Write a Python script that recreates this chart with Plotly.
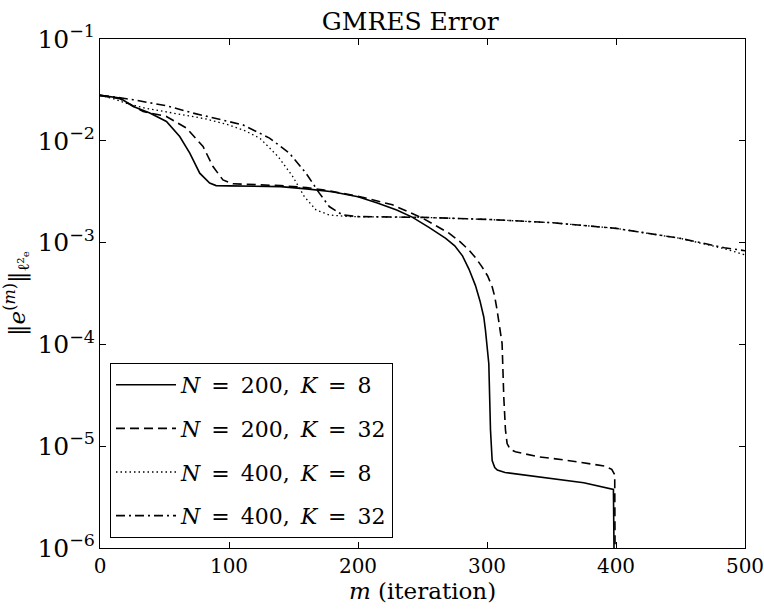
import plotly.graph_objects as go

# ---- data (iteration m, error norm) ----
m_200_8 = [0, 8, 15.5, 25.8, 38.6, 51.5, 61.8, 69.6, 77.3, 85, 90, 100, 120, 140, 160, 180,
           200, 215, 230, 242, 255, 268, 275, 281, 286, 291, 294.5, 297.5, 298.8, 301.4, 302.7,
           304, 306, 308, 314, 330, 353, 375, 398, 400]
e_200_8 = [0.02793, 0.02723, 0.02630, 0.02173, 0.01871, 0.01549, 0.01102, 0.00757, 0.00481,
           0.00384, 0.00363, 0.00361, 0.00357, 0.00355, 0.00337, 0.00316, 0.00282, 0.00245,
           0.00209, 0.00178, 0.00141, 0.00110, 9.3e-4, 7.41e-4, 5.5e-4, 3.80e-4, 2.69e-4,
           1.86e-4, 1.38e-4, 6.46e-5, 1.45e-5, 7.24e-6, 6.17e-6, 5.82e-6, 5.52e-6, 5.19e-6,
           4.82e-6, 4.37e-6, 3.76e-6, 1e-8]

m_200_32 = [0, 15.5, 33.5, 51.5, 67, 79.9, 87.6, 95.3, 103, 120, 140, 160, 172.6, 190, 206,
            226.7, 250, 270.5, 279, 286, 291.5, 296, 300.5, 304, 306, 307.8, 310.4, 311.7, 313,
            314.3, 315.6, 318, 322, 340, 360, 378.7, 391.6, 396.7, 399, 400]
e_200_32 = [0.02793, 0.02588, 0.01941, 0.01734, 0.01334, 0.00879, 0.00558, 0.00413, 0.00378,
            0.00372, 0.00363, 0.00347, 0.00330, 0.00302, 0.00274, 0.00235, 0.00174, 0.00124,
            1.02e-3, 8.47e-4, 7.0e-4, 5.81e-4, 4.7e-4, 3.69e-4, 2.95e-4, 2.18e-4, 1.38e-4,
            1.02e-4, 3.06e-5, 1.45e-5, 1.06e-5, 9.33e-6, 8.81e-6, 7.87e-6, 7.33e-6, 6.78e-6,
            6.37e-6, 5.92e-6, 5.25e-6, 1e-8]

m_400_8 = [0, 10, 20, 35, 60, 82, 100, 113, 124, 131, 138, 149.4, 158.4, 167.5, 177.7, 193,
           250, 300, 350, 400, 450, 484, 500]
e_400_8 = [0.02793, 0.02600, 0.02344, 0.02089, 0.01841, 0.01641, 0.01429, 0.01245, 0.01059,
           0.00871, 0.00701, 0.00446, 0.00283, 0.00209, 0.00187, 0.00180, 0.00177, 0.00169,
           0.00157, 0.00138, 0.00110, 8.71e-4, 7.59e-4]

m_400_32 = [0, 12, 25.8, 51.5, 72.1, 92.7, 110.7, 131.4, 146.8, 159.7, 170, 177.7, 188, 200,
            250, 300, 350, 400, 450, 484, 500]
e_400_32 = [0.02793, 0.02692, 0.02529, 0.02208, 0.01871, 0.01633, 0.01435, 0.01064, 0.00757,
            0.00481, 0.00306, 0.00226, 0.00187, 0.00180, 0.00177, 0.00169, 0.00157, 0.00138,
            0.00110, 8.91e-4, 8.32e-4]

SP = "\u2002"  # en space, mimics LaTeX math spacing
labels = [f"<i>N</i>{SP}={SP}200,{SP}<i>K</i>{SP}={SP}8",
          f"<i>N</i>{SP}={SP}200,{SP}<i>K</i>{SP}={SP}32",
          f"<i>N</i>{SP}={SP}400,{SP}<i>K</i>{SP}={SP}8",
          f"<i>N</i>{SP}={SP}400,{SP}<i>K</i>{SP}={SP}32"]

FONT = "DejaVu Serif"

fig = go.Figure()
series = [
    (m_200_8, e_200_8, "solid", 1.6),
    (m_200_32, e_200_32, "9px,5px", 1.6),
    (m_400_8, e_400_8, "1.5px,3px", 1.3),
    (m_400_32, e_400_32, "9px,4px,2px,4px", 1.6),
]
for i, (mx, ey, dash, w) in enumerate(series):
    fig.add_trace(go.Scatter(x=mx, y=ey, mode="lines", name=labels[i], legendgroup=f"g{i}",
                             line=dict(color="black", width=w, dash=dash)))

axis_common = dict(showline=True, linecolor="black", linewidth=1, mirror="ticks",
                   ticks="inside", ticklen=6, tickcolor="black", showgrid=False, zeroline=False,
                   ticklabeloverflow="allow", automargin=False,
                   tickfont=dict(family=FONT, size=20, color="black"))

fig.update_layout(
    width=764, height=613,
    margin=dict(l=100, r=19, t=39, b=65, autoexpand=False),
    paper_bgcolor="white", plot_bgcolor="white",
    title=dict(text="GMRES Error", x=0.537, xref="container", xanchor="center",
               y=0.965, yanchor="middle",
               font=dict(family=FONT, size=25, color="black")),
    xaxis=dict(range=[0, 500], dtick=100, tick0=0,
               title=dict(text="<i>m</i> (iteration)", standoff=2,
                          font=dict(family=FONT, size=23, color="black")),
               **axis_common),
    yaxis=dict(type="log", range=[-6, -1], dtick=1, exponentformat="power", showexponent="all",
               title=dict(text="‖<i>e</i><sup>(<i>m</i>)</sup>‖<sub>ℓ²ₑ</sub>", standoff=6,
                          font=dict(family=FONT, size=23, color="black")),
               **axis_common),
    legend=dict(x=0.0155, y=0.3635, xanchor="left", yanchor="top", bgcolor="white",
                bordercolor="black", borderwidth=1, tracegroupgap=12, itemwidth=60,
                font=dict(family=FONT, size=22, color="black")),
    showlegend=True,
)

fig.write_html("out.html")
